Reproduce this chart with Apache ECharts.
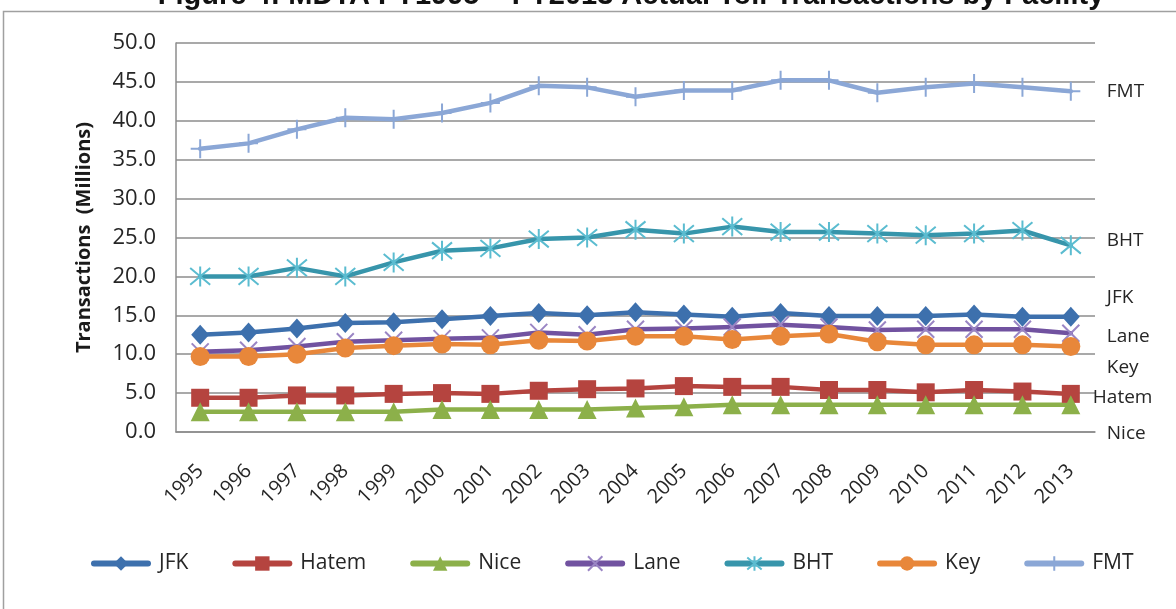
<!DOCTYPE html>
<html>
<head>
<meta charset="utf-8">
<script src="https://cdn.jsdelivr.net/npm/echarts@6/dist/echarts.min.js"></script>
<style>html,body{margin:0;padding:0;background:#fff;}#c{width:1176px;height:609px;}</style>
</head>
<body>
<div id="c"></div>
<script>
const years = ['1995','1996','1997','1998','1999','2000','2001','2002','2003','2004','2005','2006','2007','2008','2009','2010','2011','2012','2013'];
const jfk   = [12.5,12.8,13.3,14.0,14.1,14.5,14.9,15.3,15.0,15.4,15.1,14.8,15.3,14.9,14.9,14.9,15.1,14.8,14.8];
const hatem = [4.4,4.4,4.7,4.7,4.9,5.0,4.9,5.3,5.5,5.6,5.9,5.8,5.8,5.4,5.4,5.1,5.4,5.2,4.9];
const nice  = [2.6,2.6,2.6,2.6,2.6,2.9,2.9,2.9,2.9,3.1,3.25,3.5,3.5,3.5,3.5,3.5,3.5,3.5,3.5];
const lane  = [10.3,10.5,11.0,11.6,11.8,12.0,12.1,12.8,12.5,13.2,13.3,13.5,13.8,13.5,13.1,13.2,13.2,13.2,12.7];
const bht   = [20.0,20.0,21.1,20.0,21.8,23.3,23.6,24.8,25.0,26.0,25.5,26.4,25.7,25.7,25.5,25.3,25.5,25.9,24.0];
const key   = [9.7,9.7,10.0,10.8,11.1,11.3,11.2,11.8,11.7,12.3,12.3,11.9,12.3,12.6,11.6,11.2,11.2,11.2,11.0];
const fmt   = [36.4,37.1,38.9,40.4,40.2,41.0,42.3,44.5,44.3,43.1,43.9,43.9,45.2,45.2,43.6,44.3,44.8,44.3,43.8];
const yTicks = [0,5,10,15,20,25,30,35,40,45,50];

const FONT = 'Open Sans';
const chart = echarts.init(document.getElementById('c'), null, {renderer:'canvas'});

function mkSeries(name, data, lineColor, markColor, symbol, size, labelOffset, pathSym) {
  const s = {
    name: name, type: 'line', data: data,
    symbol: symbol, symbolSize: size,
    lineStyle: {color: lineColor, width: 4.5, cap: 'round', join: 'round'},
    itemStyle: {color: markColor},
    emphasis: {disabled: true},
    endLabel: {
      show: true, formatter: '{a}', position: 'right', distance: 36,
      offset: labelOffset, color: '#262626', fontFamily: FONT, fontSize: 19
    }
  };
  if (pathSym) {
    s.itemStyle = {color: markColor, borderColor: markColor, borderWidth: 2};
  }
  return s;
}

const option = {
  animation: false,
  backgroundColor: '#fff',
  graphic: [
    {type: 'rect', z: -10, shape: {x: 3.5, y: 11.5, width: 1300, height: 800},
     style: {fill: 'none', stroke: '#a0a0a0', lineWidth: 1.5}},
    {type: 'text', x: 631, y: 10,
     style: {text: 'Figure 4: MDTA FY1995 \u2013 FY2013 Actual Toll Transactions by Facility',
             textAlign: 'center', textVerticalAlign: 'bottom',
             font: 'bold 29px "Liberation Sans", Arial, sans-serif', fill: '#111'}}
  ],
  grid: {left: 176, right: 81, top: 43, bottom: 177, containLabel: false},
  legend: {
    left: 86, top: 548, itemWidth: 54, itemHeight: 18, itemGap: 44,
    lineStyle: {width: 6, cap: 'round'},
    textStyle: {fontFamily: FONT, fontSize: 21, color: '#262626', padding: [0, 0, 0, 6]},
    data: ['JFK','Hatem','Nice','Lane','BHT','Key','FMT']
  },
  xAxis: {
    type: 'category', data: years, boundaryGap: true,
    axisLine: {lineStyle: {color: '#8c8c8c', width: 1.5}},
    axisTick: {show: false},
    axisLabel: {rotate: 45, margin: 36, fontFamily: FONT, fontSize: 20, color: '#262626', interval: 0}
  },
  yAxis: {
    type: 'value', min: yTicks[0], max: yTicks[yTicks.length-1], interval: 5,
    name: 'Transactions  (Millions)', nameLocation: 'middle', nameGap: 82, nameRotate: 90,
    nameTextStyle: {fontFamily: FONT, fontSize: 20, fontWeight: 'bold', color: '#1a1a1a'},
    axisLine: {show: true, lineStyle: {color: '#8c8c8c', width: 1.5}},
    axisTick: {show: false},
    splitLine: {lineStyle: {color: '#8c8c8c', width: 1.5}},
    axisLabel: {formatter: v => v.toFixed(1), margin: 20, fontFamily: FONT, fontSize: 22, color: '#262626'}
  },
  series: [
    mkSeries('JFK', jfk, '#3d70ad', '#3d70ad', 'diamond', [18, 20], [0, -19]),
    mkSeries('Hatem', hatem, '#b5443f', '#b5443f', 'rect', 18, [-14, 4]),
    mkSeries('Nice', nice, '#8cb04a', '#8cb04a', 'triangle', 19, [0, 29]),
    mkSeries('Lane', lane, '#7152a0', '#9a85c4', 'path://M0,0L10,10M10,0L0,10', 17, [0, 3], true),
    mkSeries('BHT', bht, '#3795ab', '#5bbcd0', 'path://M0,0L10,10M10,0L0,10M5,-1L5,11', 20, [0, -5], true),
    mkSeries('Key', key, '#e8873a', '#e8873a', 'circle', 19, [0, 21]),
    mkSeries('FMT', fmt, '#8ba7d6', '#8ba7d6', 'path://M5,0L5,10M0,5L10,5', 19, [0, 0], true)
  ]
};
chart.setOption(option);
</script>
</body>
</html>
